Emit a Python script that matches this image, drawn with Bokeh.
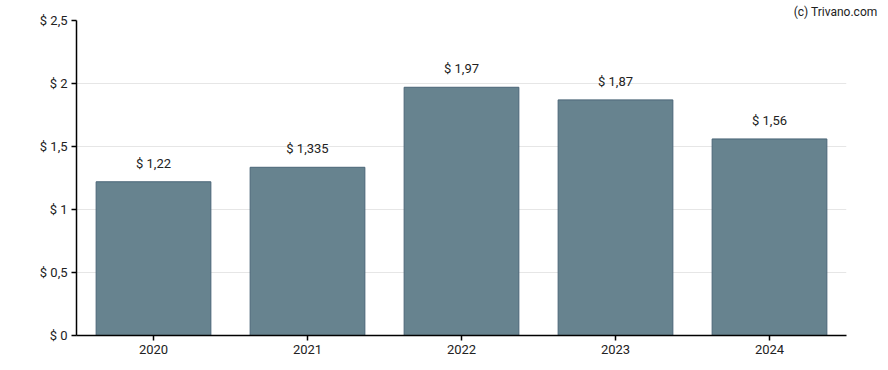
from bokeh.plotting import figure
from bokeh.models import ColumnDataSource, FixedTicker, LabelSet, Range1d, Title
from bokeh.core.properties import value
from bokeh.embed import file_html
from bokeh.resources import INLINE

years = ["2020", "2021", "2022", "2023", "2024"]
values = [1.22, 1.335, 1.97, 1.87, 1.56]
value_labels = ["$ 1,22", "$ 1,335", "$ 1,97", "$ 1,87", "$ 1,56"]
y_ticks = [0, 0.5, 1, 1.5, 2, 2.5]
y_tick_labels = ["$ 0", "$ 0,5", "$ 1", "$ 1,5", "$ 2", "$ 2,5"]

FONT = "Roboto"

src = ColumnDataSource(dict(x=years, top=values, lab=value_labels))

p = figure(x_range=years, y_range=Range1d(0, 2.5), width=888, height=370,
           output_backend="svg", toolbar_location=None,
           min_border_left=76, min_border_right=42, min_border_top=20, min_border_bottom=35)
p.outline_line_color = None
p.background_fill_color = "white"

p.vbar(x="x", top="top", width=0.745, source=src, fill_color="#67838f", line_color="#4a6577", line_width=1)

labels = LabelSet(x="x", y="top", text="lab", source=src, text_align="center",
                  text_baseline="bottom", y_offset=11, text_font=value(FONT),
                  text_font_size=value("13px"), text_color="#222222")
p.add_layout(labels)

p.yaxis.ticker = FixedTicker(ticks=y_ticks)
p.yaxis.major_label_overrides = {t: l for t, l in zip(y_ticks, y_tick_labels)}
for ax in (p.xaxis, p.yaxis):
    ax.axis_line_color = "black"
    ax.axis_line_width = 1.5
    ax.major_tick_line_color = "black"
    ax.major_tick_line_width = 1.5
    ax.minor_tick_line_color = None
    ax.major_tick_in = 0
    ax.major_tick_out = 5
    ax.major_label_text_font = FONT
    ax.major_label_text_font_size = "13px"
    ax.major_label_text_color = "#222222"
    ax.major_label_standoff = 4

p.xgrid.grid_line_color = None
p.ygrid.grid_line_color = "#e6e6e6"
p.ygrid.grid_line_width = 1
p.x_range.range_padding = 0

p.add_layout(Title(text="(c) Trivano.com", align="right", offset=-31, text_font=FONT,
                   text_font_size="12px", text_font_style="normal", text_color="#222222",
                   standoff=4), "above")

open("out.html", "w").write(file_html(p, INLINE))
